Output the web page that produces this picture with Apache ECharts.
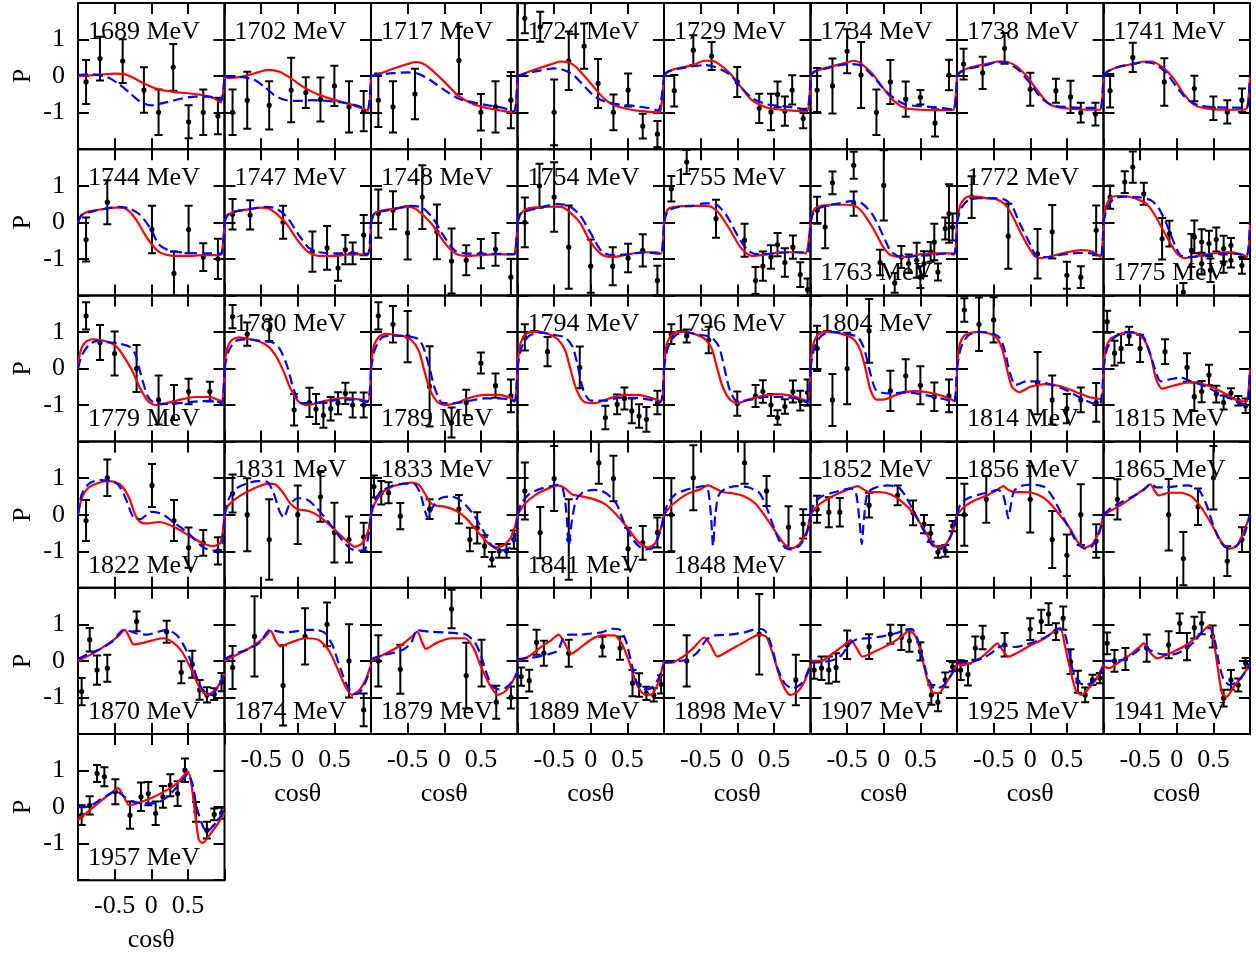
<!DOCTYPE html>
<html>
<head>
<meta charset="utf-8">
<script src="https://cdn.jsdelivr.net/npm/echarts@6/dist/echarts.min.js"></script>
<style>
html, body { margin: 0; padding: 0; background: #fff; }
#chart { width: 1256px; height: 959px; }
</style>
</head>
<body>
<div id="chart"></div>
<script>
// Beam-polarisation P versus cos(theta), one panel per photon energy.
// Measured points are [cosTheta, P, error]; modelA is the solid red curve,
// modelB the dashed blue curve, both as [cosTheta, P].

const energies = [1689, 1702, 1717, 1724, 1729, 1734, 1738, 1741,
                  1744, 1747, 1748, 1754, 1755, 1763, 1772, 1775,
                  1779, 1780, 1789, 1794, 1796, 1804, 1814, 1815,
                  1822, 1831, 1833, 1841, 1848, 1852, 1856, 1865,
                  1870, 1874, 1879, 1889, 1898, 1907, 1925, 1941,
                  1957];

// energies whose label sits in the lower part of the panel
const labelLow = [1763, 1775, 1779, 1789, 1814, 1815, 1822, 1841, 1848,
                  1870, 1874, 1879, 1889, 1898, 1907, 1925, 1941, 1957];

const xTickValues = [-0.5, 0, 0.5];
const xTickLabels = ['-0.5', '0', '0.5'];
const yTickValues = [-1, 0, 1];
const yTickLabels = ['-1', '0', '1'];

// ---- 1689 MeV
const data1689 = [[-0.89,-0.16,0.6],[-0.70,0.48,0.6],[-0.39,0.41,0.6],[-0.10,-0.38,0.62],[0.10,-0.99,0.62],[0.30,0.24,0.64],[0.51,-1.25,0.45],[0.71,-0.99,0.62],[0.91,-1.09,0.5]];
const modelA1689 = [[-1,0],[-0.9,0.01],[-0.7,0.04],[-0.5,0.07],[-0.38,0.06],[-0.25,-0.04],[-0.1,-0.2],[0.1,-0.36],[0.3,-0.43],[0.5,-0.47],[0.7,-0.52],[0.85,-0.6],[0.95,-0.72],[1,0]];
const modelB1689 = [[-1,0.03],[-0.8,0.05],[-0.6,-0.03],[-0.45,-0.2],[-0.3,-0.45],[-0.15,-0.7],[0,-0.8],[0.2,-0.72],[0.4,-0.62],[0.6,-0.56],[0.8,-0.56],[0.95,-0.66],[1,0]];
// ---- 1702 MeV
const data1702 = [[-0.89,-0.99,0.62],[-0.69,-0.66,0.78],[-0.39,-0.8,0.66],[-0.09,-0.38,0.88],[0.11,-0.45,0.42],[0.31,-0.64,0.6],[0.5,-0.27,0.55],[0.7,-0.84,0.7],[0.9,-0.96,0.55]];
const modelA1702 = [[-1,0],[-0.95,-0.05],[-0.8,-0.03],[-0.6,0.07],[-0.4,0.17],[-0.25,0.12],[-0.1,-0.05],[0.1,-0.33],[0.3,-0.52],[0.5,-0.65],[0.7,-0.76],[0.9,-0.9],[0.96,-0.95],[1,0]];
const modelB1702 = [[-1,0],[-0.9,-0.02],[-0.75,-0.03],[-0.6,-0.1],[-0.45,-0.3],[-0.3,-0.55],[-0.15,-0.66],[0,-0.68],[0.2,-0.66],[0.4,-0.68],[0.6,-0.72],[0.8,-0.8],[0.95,-0.9],[1,0]];
// ---- 1717 MeV
const data1717 = [[-0.9,-0.66,0.73],[-0.7,-0.84,0.7],[-0.4,-0.49,0.69],[0.2,0.43,0.92],[0.5,-0.99,0.5],[0.7,-0.84,0.7],[0.91,-0.66,0.77]];
const modelA1717 = [[-1,0],[-0.9,0.05],[-0.7,0.2],[-0.5,0.33],[-0.4,0.38],[-0.3,0.35],[-0.2,0.22],[0,-0.15],[0.2,-0.55],[0.4,-0.77],[0.6,-0.88],[0.8,-0.95],[0.95,-0.99],[1,0]];
const modelB1717 = [[-1,0],[-0.9,0.04],[-0.7,0.08],[-0.5,0.1],[-0.35,0.06],[-0.2,-0.1],[0,-0.38],[0.2,-0.62],[0.4,-0.72],[0.6,-0.8],[0.8,-0.87],[0.95,-0.97],[1,0]];
// ---- 1724 MeV
const data1724 = [[-0.9,1.58,0.41],[-0.69,1.35,0.41],[-0.5,-0.99,0.9],[-0.3,0.42,0.8],[-0.09,0.82,0.62],[0.1,-0.2,0.67],[0.31,-0.99,0.49],[0.51,-0.38,0.45],[0.71,-1.37,0.34],[0.91,-1.59,0.36]];
const modelA1724 = [[-1,0],[-0.9,0.08],[-0.7,0.22],[-0.5,0.35],[-0.42,0.4],[-0.3,0.37],[-0.2,0.25],[0,-0.2],[0.15,-0.55],[0.3,-0.78],[0.5,-0.9],[0.7,-0.96],[0.9,-0.99],[0.95,-0.97],[1,0]];
const modelB1724 = [[-1,0],[-0.9,0.07],[-0.7,0.15],[-0.5,0.21],[-0.4,0.19],[-0.25,0.05],[-0.1,-0.25],[0.05,-0.55],[0.2,-0.7],[0.4,-0.78],[0.6,-0.82],[0.8,-0.88],[0.92,-0.94],[1,0]];
// ---- 1729 MeV
const data1729 = [[-0.86,-0.4,0.43],[-0.6,0.71,0.41],[-0.35,0.55,0.38],[0,-0.16,0.41],[0.3,-0.88,0.4],[0.46,-0.98,0.5],[0.55,-0.5,0.35],[0.65,-0.96,0.4],[0.75,-0.38,0.4],[0.9,-1.16,0.27]];
const modelA1729 = [[-1,0],[-0.95,0.12],[-0.8,0.22],[-0.6,0.3],[-0.45,0.42],[-0.35,0.42],[-0.25,0.33],[-0.1,0.08],[0.05,-0.3],[0.2,-0.66],[0.4,-0.86],[0.6,-0.92],[0.8,-0.95],[0.95,-0.97],[1,0]];
const modelB1729 = [[-1,0],[-0.95,0.12],[-0.8,0.2],[-0.6,0.27],[-0.45,0.3],[-0.3,0.25],[-0.1,0.04],[0.05,-0.3],[0.2,-0.6],[0.4,-0.77],[0.6,-0.82],[0.8,-0.87],[0.95,-0.93],[1,0]];
// ---- 1734 MeV
const data1734 = [[-0.91,-0.38,0.6],[-0.7,-0.27,0.75],[-0.5,0.68,0.6],[-0.31,0.03,0.9],[-0.1,-0.99,0.62],[0.09,-0.16,0.6],[0.3,-0.63,0.48],[0.5,-0.58,0.2],[0.7,-1.28,0.37],[0.89,0.03,0.42]];
const modelA1734 = [[-1,0],[-0.95,0.12],[-0.8,0.22],[-0.6,0.32],[-0.5,0.38],[-0.4,0.42],[-0.3,0.33],[-0.15,0.05],[0,-0.35],[0.15,-0.7],[0.3,-0.88],[0.5,-0.92],[0.7,-0.93],[0.9,-0.93],[0.96,-0.9],[1,0]];
const modelB1734 = [[-1,0],[-0.95,0.12],[-0.8,0.2],[-0.6,0.3],[-0.45,0.33],[-0.3,0.28],[-0.15,0.0],[0,-0.35],[0.15,-0.62],[0.3,-0.78],[0.5,-0.82],[0.7,-0.85],[0.9,-0.9],[0.96,-0.92],[1,0]];
// ---- 1738 MeV
const data1738 = [[-0.91,0.33,0.42],[-0.65,0.09,0.44],[-0.35,0.76,0.42],[0,-0.36,0.45],[0.35,-0.4,0.33],[0.55,-0.57,0.44],[0.69,-1.0,0.27],[0.89,-1.04,0.31]];
const modelA1738 = [[-1,0],[-0.95,0.12],[-0.8,0.25],[-0.6,0.33],[-0.45,0.4],[-0.35,0.4],[-0.2,0.28],[-0.05,0.0],[0.1,-0.4],[0.25,-0.75],[0.4,-0.86],[0.6,-0.9],[0.8,-0.92],[0.95,-0.92],[1,0]];
const modelB1738 = [[-1,0],[-0.95,0.12],[-0.8,0.22],[-0.6,0.3],[-0.45,0.38],[-0.3,0.35],[-0.15,0.15],[0,-0.2],[0.15,-0.6],[0.3,-0.8],[0.5,-0.85],[0.7,-0.87],[0.9,-0.87],[0.96,-0.88],[1,0]];
// ---- 1741 MeV
const data1741 = [[-0.91,-0.4,0.46],[-0.6,0.51,0.4],[-0.17,-0.16,0.65],[0.24,-0.34,0.35],[0.5,-0.88,0.32],[0.69,-0.98,0.32],[0.89,-0.66,0.32]];
const modelA1741 = [[-1,0],[-0.95,0.12],[-0.8,0.25],[-0.6,0.33],[-0.45,0.4],[-0.35,0.4],[-0.2,0.25],[-0.05,-0.05],[0.1,-0.5],[0.25,-0.8],[0.45,-0.9],[0.65,-0.92],[0.85,-0.92],[0.95,-0.9],[1,0]];
const modelB1741 = [[-1,0],[-0.95,0.12],[-0.8,0.25],[-0.6,0.33],[-0.45,0.38],[-0.3,0.33],[-0.15,0.1],[0,-0.3],[0.15,-0.65],[0.3,-0.8],[0.5,-0.85],[0.7,-0.86],[0.9,-0.86],[0.96,-0.87],[1,0]];
// ---- 1744 MeV
const data1744 = [[-0.89,-0.47,0.6],[-0.6,0.55,0.6],[0.01,-0.2,0.65],[0.31,-1.4,0.6],[0.51,-0.2,0.65],[0.71,-0.95,0.38],[0.91,-1.0,0.55]];
const modelA1744 = [[-1,0],[-0.95,0.2],[-0.85,0.3],[-0.7,0.35],[-0.5,0.4],[-0.4,0.4],[-0.3,0.3],[-0.2,0.05],[-0.05,-0.45],[0.1,-0.8],[0.3,-0.92],[0.5,-0.92],[0.7,-0.9],[0.9,-0.9],[0.96,-0.87],[1,0]];
const modelB1744 = [[-1,0],[-0.95,0.2],[-0.8,0.3],[-0.6,0.38],[-0.45,0.42],[-0.3,0.38],[-0.15,0.2],[0,-0.2],[0.1,-0.6],[0.25,-0.78],[0.45,-0.83],[0.7,-0.85],[0.9,-0.85],[0.96,-0.86],[1,0]];
// ---- 1747 MeV
const data1747 = [[-0.89,0.22,0.42],[-0.65,0.2,0.4],[-0.2,0.0,0.45],[0.2,-0.8,0.55],[0.4,-0.7,0.6],[0.55,-1.25,0.35],[0.65,-0.75,0.4],[0.75,-0.85,0.3],[0.9,-0.35,0.55]];
const modelA1747 = [[-1,0],[-0.95,0.2],[-0.85,0.3],[-0.65,0.36],[-0.5,0.4],[-0.4,0.38],[-0.3,0.25],[-0.15,-0.05],[0,-0.5],[0.15,-0.82],[0.3,-0.92],[0.5,-0.92],[0.7,-0.88],[0.9,-0.88],[0.96,-0.88],[1,0]];
const modelB1747 = [[-1,0],[-0.95,0.22],[-0.8,0.32],[-0.6,0.38],[-0.45,0.42],[-0.3,0.38],[-0.15,0.15],[0,-0.3],[0.15,-0.7],[0.3,-0.82],[0.5,-0.85],[0.7,-0.85],[0.9,-0.85],[0.96,-0.87],[1,0]];
// ---- 1748 MeV
const data1748 = [[-0.9,0.24,0.66],[-0.7,0.33,0.52],[-0.5,-0.29,0.73],[-0.3,0.69,0.87],[-0.1,-0.26,0.75],[0.1,-1.06,0.89],[0.3,-1.04,0.41],[0.5,-0.86,0.4],[0.7,-0.74,0.45],[0.91,-1.5,0.5]];
const modelA1748 = [[-1,0],[-0.95,0.25],[-0.85,0.32],[-0.65,0.38],[-0.5,0.42],[-0.4,0.38],[-0.3,0.22],[-0.15,-0.1],[0,-0.55],[0.15,-0.85],[0.3,-0.92],[0.5,-0.9],[0.7,-0.88],[0.9,-0.88],[0.96,-0.86],[1,0]];
const modelB1748 = [[-1,0],[-0.95,0.25],[-0.8,0.32],[-0.6,0.4],[-0.45,0.45],[-0.3,0.4],[-0.15,0.1],[0,-0.4],[0.15,-0.78],[0.3,-0.85],[0.5,-0.86],[0.7,-0.86],[0.9,-0.87],[0.96,-0.87],[1,0]];
// ---- 1754 MeV
const data1754 = [[-0.9,0.0,0.68],[-0.7,1.0,0.6],[-0.5,0.69,0.95],[-0.3,-0.68,1.14],[0.0,-1.2,0.73],[0.3,-1.2,0.52],[0.51,-0.98,0.39],[0.71,-0.77,0.44],[0.91,-1.59,0.4]];
const modelA1754 = [[-1,0],[-0.95,0.25],[-0.85,0.38],[-0.65,0.42],[-0.5,0.43],[-0.4,0.42],[-0.3,0.3],[-0.15,0.0],[0,-0.55],[0.15,-0.88],[0.3,-0.95],[0.5,-0.88],[0.7,-0.82],[0.9,-0.82],[0.96,-0.86],[1,0]];
const modelB1754 = [[-1,0],[-0.95,0.25],[-0.8,0.35],[-0.6,0.45],[-0.45,0.5],[-0.3,0.45],[-0.15,0.2],[0,-0.3],[0.15,-0.8],[0.3,-0.9],[0.5,-0.88],[0.7,-0.83],[0.9,-0.85],[0.96,-0.87],[1,0]];
// ---- 1755 MeV
const data1755 = [[-0.9,0.92,0.35],[-0.69,1.65,0.33],[-0.29,0.1,0.52],[0.1,-0.49,0.45],[0.25,-1.59,0.37],[0.35,-1.2,0.4],[0.46,-0.95,0.32],[0.55,-0.61,0.32],[0.65,-1.1,0.39],[0.76,-0.68,0.32],[0.86,-1.43,0.34],[0.96,-1.84,0.3]];
const modelA1755 = [[-1,0],[-0.95,0.35],[-0.85,0.42],[-0.65,0.45],[-0.45,0.45],[-0.35,0.42],[-0.25,0.25],[-0.1,-0.2],[0.05,-0.7],[0.2,-0.92],[0.4,-0.88],[0.6,-0.82],[0.8,-0.82],[0.93,-0.85],[1,0]];
const modelB1755 = [[-1,0],[-0.95,0.3],[-0.8,0.42],[-0.6,0.45],[-0.45,0.52],[-0.3,0.5],[-0.15,0.2],[0,-0.35],[0.15,-0.78],[0.3,-0.88],[0.5,-0.85],[0.7,-0.82],[0.9,-0.82],[0.96,-0.85],[1,0]];
// ---- 1763 MeV
const data1763 = [[-0.91,0.33,0.37],[-0.8,-0.13,0.58],[-0.7,1.08,0.31],[-0.41,1.56,0.37],[-0.41,0.51,0.33],[0.0,1.01,0.96],[-0.05,-1.1,0.35],[0.15,-1.66,0.27],[0.24,-0.95,0.3],[0.34,-1.13,0.25],[0.45,-1.04,0.48],[0.5,-1.5,0.3],[0.55,-1.13,0.34],[0.64,-0.81,0.27],[0.69,-0.54,0.5],[0.74,-1.36,0.23],[0.84,-0.17,0.3],[0.89,0.24,0.8],[0.94,-0.13,0.37]];
const modelA1763 = [[-1,0],[-0.95,0.35],[-0.85,0.45],[-0.65,0.48],[-0.5,0.48],[-0.4,0.45],[-0.3,0.3],[-0.15,-0.15],[0,-0.7],[0.1,-0.9],[0.3,-0.95],[0.5,-0.88],[0.7,-0.85],[0.9,-0.85],[0.96,-0.85],[1,0]];
const modelB1763 = [[-1,0],[-0.95,0.3],[-0.8,0.45],[-0.6,0.52],[-0.45,0.58],[-0.3,0.52],[-0.15,0.2],[0,-0.4],[0.1,-0.8],[0.25,-0.95],[0.45,-0.92],[0.65,-0.9],[0.85,-0.85],[0.96,-0.88],[1,0]];
// ---- 1772 MeV
const data1772 = [[-0.8,0.69,0.57],[-0.3,-0.38,0.89],[0.1,-0.86,0.68],[0.3,-0.26,0.73],[0.5,-1.45,0.37],[0.69,-1.5,0.3],[0.9,-0.22,0.68]];
const modelA1772 = [[-1,0],[-0.95,0.5],[-0.85,0.7],[-0.75,0.7],[-0.6,0.66],[-0.45,0.62],[-0.35,0.5],[-0.25,0.2],[-0.1,-0.4],[0.05,-0.9],[0.15,-0.98],[0.3,-0.92],[0.5,-0.82],[0.7,-0.76],[0.85,-0.8],[0.96,-0.95],[1,0]];
const modelB1772 = [[-1,0],[-0.95,0.35],[-0.85,0.6],[-0.7,0.66],[-0.5,0.66],[-0.35,0.62],[-0.25,0.45],[-0.15,0.0],[0,-0.6],[0.1,-0.95],[0.25,-0.95],[0.45,-0.88],[0.65,-0.84],[0.85,-0.85],[0.96,-0.95],[1,0]];
// ---- 1775 MeV
const data1775 = [[-0.91,0.69,0.32],[-0.71,1.1,0.3],[-0.6,1.51,0.43],[-0.45,0.78,0.3],[-0.2,-0.45,0.57],[-0.1,-0.31,0.35],[0.09,-1.91,0.25],[0.2,-0.77,0.45],[0.24,-0.4,0.45],[0.34,-0.54,0.35],[0.34,-1.13,0.3],[0.44,-0.58,0.35],[0.46,-1.31,0.32],[0.54,-0.47,0.33],[0.64,-0.72,0.35],[0.64,-1.13,0.25],[0.74,-0.63,0.2],[0.74,-1.04,0.2],[0.89,-1.18,0.23]];
const modelA1775 = [[-1,0],[-0.97,0.4],[-0.9,0.68],[-0.8,0.72],[-0.65,0.7],[-0.5,0.6],[-0.4,0.48],[-0.3,0.2],[-0.15,-0.35],[0,-0.85],[0.1,-0.98],[0.3,-0.92],[0.5,-0.85],[0.7,-0.82],[0.9,-0.88],[0.96,-0.95],[1,0]];
const modelB1775 = [[-1,0],[-0.95,0.4],[-0.85,0.66],[-0.7,0.7],[-0.5,0.68],[-0.35,0.6],[-0.25,0.4],[-0.15,0.0],[-0.05,-0.5],[0.05,-0.9],[0.2,-0.95],[0.4,-0.9],[0.6,-0.86],[0.8,-0.86],[0.95,-0.92],[1,0]];
// ---- 1779 MeV
const data1779 = [[-0.89,1.44,0.37],[-0.7,0.71,0.48],[-0.5,0.41,0.6],[-0.2,0.0,0.64],[0.1,-0.86,0.67],[0.31,-0.93,0.48],[0.51,-0.63,0.35],[0.8,-0.63,0.27]];
const modelA1779 = [[-1,0],[-0.97,0.45],[-0.9,0.72],[-0.8,0.8],[-0.7,0.78],[-0.55,0.7],[-0.45,0.55],[-0.35,0.25],[-0.25,-0.1],[-0.15,-0.55],[-0.05,-0.88],[0.05,-1.0],[0.2,-0.95],[0.4,-0.85],[0.6,-0.78],[0.8,-0.78],[0.9,-0.85],[0.96,-0.9],[1,0]];
const modelB1779 = [[-1,0],[-0.95,0.35],[-0.85,0.65],[-0.75,0.75],[-0.6,0.72],[-0.45,0.68],[-0.3,0.6],[-0.22,0.4],[-0.15,-0.1],[-0.05,-0.75],[0.05,-0.95],[0.25,-0.97],[0.45,-0.93],[0.65,-0.9],[0.85,-0.88],[0.96,-0.95],[1,0]];
// ---- 1780 MeV
const data1780 = [[-0.89,1.42,0.32],[-0.69,0.94,0.32],[-0.39,1.05,0.3],[-0.05,-1.13,0.43],[0.16,-0.93,0.4],[0.25,-1.11,0.41],[0.35,-1.28,0.34],[0.45,-1.1,0.32],[0.55,-0.95,0.3],[0.65,-0.68,0.29],[0.75,-1.0,0.34],[0.9,-1.0,0.34]];
const modelA1780 = [[-1,0],[-0.97,0.5],[-0.9,0.78],[-0.8,0.85],[-0.65,0.8],[-0.5,0.72],[-0.4,0.6],[-0.3,0.35],[-0.2,-0.05],[-0.1,-0.55],[0,-0.88],[0.1,-1.0],[0.25,-0.95],[0.45,-0.85],[0.65,-0.8],[0.85,-0.85],[0.96,-0.9],[1,0]];
const modelB1780 = [[-1,0],[-0.95,0.45],[-0.85,0.75],[-0.7,0.8],[-0.5,0.75],[-0.35,0.72],[-0.25,0.55],[-0.15,0.1],[-0.05,-0.6],[0.05,-0.95],[0.2,-0.95],[0.4,-0.9],[0.6,-0.85],[0.8,-0.85],[0.95,-0.92],[1,0]];
// ---- 1789 MeV
const data1789 = [[-0.9,1.44,0.37],[-0.7,1.21,0.5],[-0.5,0.87,0.7],[-0.2,-0.49,1.1],[0.1,-1.48,0.41],[0.3,-0.93,0.35],[0.5,0.15,0.29],[0.7,-0.47,0.33],[0.91,-0.75,0.45]];
const modelA1789 = [[-1,0],[-0.97,0.55],[-0.9,0.85],[-0.8,0.95],[-0.7,0.93],[-0.55,0.88],[-0.45,0.78],[-0.35,0.5],[-0.28,0.0],[-0.2,-0.55],[-0.1,-0.9],[0,-1.0],[0.15,-0.95],[0.35,-0.8],[0.55,-0.72],[0.75,-0.72],[0.9,-0.8],[0.96,-0.88],[1,0]];
const modelB1789 = [[-1,0],[-0.95,0.5],[-0.85,0.85],[-0.7,0.9],[-0.5,0.88],[-0.35,0.8],[-0.28,0.55],[-0.2,0.0],[-0.12,-0.6],[-0.02,-0.95],[0.15,-0.95],[0.35,-0.88],[0.55,-0.82],[0.75,-0.82],[0.9,-0.85],[0.96,-0.9],[1,0]];
// ---- 1794 MeV
const data1794 = [[-0.9,0.85,0.36],[-0.59,0.46,0.4],[-0.15,0.03,0.57],[0.2,-1.34,0.32],[0.36,-0.98,0.27],[0.46,-0.82,0.3],[0.56,-1.16,0.34],[0.66,-1.3,0.32],[0.76,-1.39,0.34],[0.91,-0.93,0.32]];
const modelA1794 = [[-1,0],[-0.97,0.6],[-0.9,0.92],[-0.8,1.0],[-0.7,1.0],[-0.55,0.92],[-0.45,0.8],[-0.35,0.5],[-0.28,0.0],[-0.2,-0.55],[-0.1,-0.9],[0.05,-0.95],[0.25,-0.82],[0.45,-0.72],[0.65,-0.72],[0.85,-0.82],[0.96,-0.9],[1,0]];
const modelB1794 = [[-1,0],[-0.95,0.55],[-0.85,0.88],[-0.7,0.98],[-0.5,0.92],[-0.35,0.85],[-0.25,0.6],[-0.18,0.1],[-0.1,-0.6],[0,-0.88],[0.2,-0.88],[0.4,-0.8],[0.6,-0.8],[0.8,-0.85],[0.95,-0.92],[1,0]];
// ---- 1796 MeV
const data1796 = [[-0.9,0.94,0.27],[-0.69,0.89,0.18],[-0.39,0.78,0.36],[0.0,-0.96,0.33],[0.25,-0.75,0.3],[0.35,-0.63,0.31],[0.46,-1.0,0.3],[0.55,-1.34,0.2],[0.65,-1.04,0.2],[0.76,-0.63,0.3],[0.86,-0.88,0.27],[0.96,-0.66,0.36]];
const modelA1796 = [[-1,0],[-0.97,0.6],[-0.9,0.92],[-0.8,1.0],[-0.7,1.0],[-0.55,0.92],[-0.45,0.82],[-0.35,0.55],[-0.28,0.05],[-0.2,-0.5],[-0.1,-0.85],[0,-0.95],[0.15,-0.85],[0.35,-0.75],[0.55,-0.7],[0.75,-0.75],[0.9,-0.85],[0.96,-0.9],[1,0]];
const modelB1796 = [[-1,0],[-0.95,0.55],[-0.85,0.9],[-0.7,0.98],[-0.5,0.92],[-0.35,0.85],[-0.25,0.6],[-0.18,0.05],[-0.1,-0.6],[0,-0.9],[0.2,-0.85],[0.4,-0.78],[0.6,-0.78],[0.8,-0.82],[0.95,-0.92],[1,0]];
// ---- 1804 MeV
const data1804 = [[-0.91,0.55,0.62],[-0.7,-0.86,0.71],[-0.5,0.0,0.98],[-0.2,1.03,0.87],[0.09,-0.61,0.55],[0.3,-0.2,0.45],[0.5,-0.46,0.52],[0.69,-0.77,0.39],[0.89,-0.75,0.45]];
const modelA1804 = [[-1,0],[-0.97,0.6],[-0.9,0.92],[-0.8,1.0],[-0.65,0.98],[-0.5,0.9],[-0.4,0.78],[-0.32,0.5],[-0.25,0.0],[-0.18,-0.6],[-0.1,-0.85],[0,-0.85],[0.2,-0.7],[0.4,-0.62],[0.6,-0.65],[0.8,-0.75],[0.92,-0.85],[0.97,-0.9],[1,0]];
const modelB1804 = [[-1,0],[-0.95,0.55],[-0.85,0.9],[-0.7,1.0],[-0.5,0.95],[-0.35,0.85],[-0.27,0.55],[-0.2,0.0],[-0.12,-0.55],[-0.05,-0.65],[0.1,-0.68],[0.3,-0.65],[0.5,-0.7],[0.7,-0.78],[0.9,-0.88],[0.96,-0.92],[1,0]];
// ---- 1814 MeV
const data1814 = [[-0.9,1.6,0.32],[-0.7,1.21,0.73],[-0.5,1.33,0.62],[0.1,-0.4,0.85],[0.3,-0.86,0.67],[0.5,-1.1,0.4],[0.69,-0.86,0.34],[0.9,-0.93,0.53]];
const modelA1814 = [[-1,0],[-0.97,0.6],[-0.9,0.9],[-0.8,0.98],[-0.7,1.0],[-0.55,0.95],[-0.45,0.82],[-0.38,0.5],[-0.32,0.0],[-0.25,-0.5],[-0.15,-0.65],[0,-0.5],[0.2,-0.43],[0.4,-0.48],[0.6,-0.62],[0.8,-0.78],[0.9,-0.82],[0.97,-0.85],[1,0]];
const modelB1814 = [[-1,0],[-0.95,0.55],[-0.85,0.9],[-0.7,1.0],[-0.55,0.98],[-0.42,0.85],[-0.35,0.5],[-0.28,-0.1],[-0.2,-0.45],[-0.05,-0.35],[0.1,-0.35],[0.3,-0.45],[0.5,-0.6],[0.7,-0.82],[0.85,-0.95],[0.95,-0.98],[1,0]];
// ---- 1815 MeV
const data1815 = [[-0.95,1.28,0.3],[-0.85,0.42,0.34],[-0.76,0.55,0.39],[-0.65,0.89,0.25],[-0.5,0.55,0.37],[-0.16,0.46,0.34],[0.14,0.03,0.39],[0.24,-0.77,0.39],[0.34,-0.63,0.29],[0.44,-0.18,0.28],[0.54,-0.7,0.23],[0.64,-0.93,0.19],[0.74,-0.67,0.13],[0.84,-0.88,0.13],[0.94,-1.02,0.2]];
const modelA1815 = [[-1,0],[-0.97,0.55],[-0.9,0.82],[-0.8,0.92],[-0.7,0.98],[-0.6,0.98],[-0.5,0.9],[-0.42,0.7],[-0.35,0.3],[-0.28,-0.3],[-0.2,-0.55],[-0.1,-0.5],[0.05,-0.42],[0.2,-0.38],[0.4,-0.45],[0.6,-0.62],[0.8,-0.85],[0.9,-0.9],[0.96,-0.88],[1,0]];
const modelB1815 = [[-1,0],[-0.95,0.55],[-0.85,0.85],[-0.7,1.0],[-0.55,0.98],[-0.45,0.85],[-0.38,0.5],[-0.3,0.0],[-0.22,-0.35],[-0.1,-0.3],[0.05,-0.25],[0.2,-0.35],[0.4,-0.5],[0.6,-0.7],[0.8,-0.88],[0.92,-0.98],[0.97,-0.95],[1,0]];
// ---- 1822 MeV
const data1822 = [[-0.89,-0.16,0.56],[-0.6,1.01,0.5],[0.01,0.8,0.59],[0.31,-0.16,0.56],[0.51,-0.9,0.55],[0.71,-0.77,0.35],[0.91,-0.99,0.37]];
const modelA1822 = [[-1,0],[-0.95,0.45],[-0.85,0.75],[-0.7,0.88],[-0.6,0.92],[-0.5,0.9],[-0.4,0.78],[-0.3,0.45],[-0.22,0.0],[-0.15,-0.2],[-0.05,-0.24],[0.1,-0.2],[0.3,-0.32],[0.5,-0.55],[0.7,-0.78],[0.85,-0.86],[0.95,-0.75],[1,0]];
const modelB1822 = [[-1,0],[-0.95,0.55],[-0.85,0.85],[-0.7,0.95],[-0.55,0.92],[-0.45,0.82],[-0.35,0.45],[-0.25,-0.05],[-0.15,-0.12],[0,0.08],[0.15,0.02],[0.3,-0.2],[0.5,-0.5],[0.7,-0.88],[0.85,-0.98],[0.95,-0.97],[1,0]];
// ---- 1831 MeV
const data1831 = [[-0.89,0.58,0.52],[-0.69,0.0,1.0],[-0.39,-0.68,1.1],[0.0,0.0,0.8],[0.31,0.49,0.68],[0.5,-0.49,0.82],[0.7,-0.68,0.63],[0.9,-0.61,0.39]];
const modelA1831 = [[-1,0],[-0.95,0.25],[-0.8,0.5],[-0.6,0.72],[-0.4,0.85],[-0.3,0.82],[-0.2,0.6],[-0.1,0.3],[0,0.15],[0.15,0.1],[0.3,-0.05],[0.5,-0.4],[0.7,-0.78],[0.78,-0.88],[0.88,-0.78],[0.96,-0.45],[1,0]];
const modelB1831 = [[-1,0],[-0.95,0.4],[-0.85,0.7],[-0.7,0.85],[-0.55,0.92],[-0.42,0.9],[-0.33,0.6],[-0.25,0.1],[-0.19,-0.08],[-0.12,0.25],[0,0.45],[0.12,0.42],[0.25,0.2],[0.4,-0.15],[0.55,-0.55],[0.7,-0.9],[0.8,-0.98],[0.92,-0.95],[1,0]];
// ---- 1833 MeV
const data1833 = [[-0.96,0.77,0.3],[-0.86,0.6,0.32],[-0.76,0.6,0.29],[-0.6,-0.04,0.36],[-0.2,0.15,0.27],[0.2,0.15,0.39],[0.35,-0.68,0.32],[0.45,-0.36,0.43],[0.55,-0.86,0.3],[0.65,-1.22,0.2],[0.75,-0.99,0.19],[0.85,-0.99,0.19],[0.95,-0.68,0.25]];
const modelA1833 = [[-1,0],[-0.95,0.3],[-0.85,0.6],[-0.7,0.78],[-0.55,0.85],[-0.45,0.88],[-0.35,0.82],[-0.27,0.6],[-0.2,0.35],[-0.12,0.25],[0,0.22],[0.15,0.12],[0.3,-0.1],[0.45,-0.45],[0.6,-0.78],[0.7,-0.88],[0.8,-0.85],[0.9,-0.65],[0.97,-0.3],[1,0]];
const modelB1833 = [[-1,0],[-0.95,0.4],[-0.85,0.65],[-0.7,0.8],[-0.55,0.85],[-0.42,0.85],[-0.33,0.6],[-0.27,0.15],[-0.22,-0.1],[-0.16,0.2],[-0.05,0.45],[0.1,0.5],[0.25,0.35],[0.4,0.0],[0.55,-0.5],[0.65,-0.85],[0.78,-0.98],[0.9,-0.9],[0.97,-0.55],[1,0]];
// ---- 1841 MeV
const data1841 = [[-0.9,0.65,0.78],[-0.69,-0.49,0.7],[-0.5,0.99,0.89],[-0.3,-0.68,1.1],[0.11,1.42,0.57],[0.31,0.99,0.62],[0.51,-0.93,0.57],[0.71,-0.77,0.46],[0.91,-0.49,0.41]];
const modelA1841 = [[-1,0],[-0.9,0.3],[-0.75,0.55],[-0.6,0.7],[-0.45,0.8],[-0.35,0.72],[-0.25,0.55],[-0.12,0.5],[0.05,0.42],[0.2,0.28],[0.35,0.0],[0.5,-0.35],[0.65,-0.75],[0.78,-0.9],[0.88,-0.78],[0.96,-0.35],[1,0]];
const modelB1841 = [[-1,0],[-0.95,0.3],[-0.85,0.55],[-0.7,0.7],[-0.55,0.78],[-0.45,0.82],[-0.38,0.7],[-0.33,0.0],[-0.3,-0.85],[-0.26,-0.2],[-0.2,0.4],[-0.1,0.62],[0.05,0.68],[0.2,0.6],[0.35,0.3],[0.45,-0.2],[0.55,-0.6],[0.65,-0.85],[0.75,-0.95],[0.85,-0.9],[0.95,-0.45],[1,0]];
// ---- 1848 MeV
const data1848 = [[-0.9,0.0,1.0],[-0.6,1.01,0.89],[0.1,1.42,0.57],[0.4,0.65,0.41],[0.7,-0.34,0.57],[0.9,-0.25,0.4]];
const modelA1848 = [[-1,0],[-0.9,0.25],[-0.7,0.55],[-0.5,0.7],[-0.4,0.8],[-0.3,0.72],[-0.2,0.62],[-0.05,0.58],[0.1,0.5],[0.25,0.3],[0.4,-0.1],[0.55,-0.55],[0.65,-0.82],[0.75,-0.92],[0.85,-0.8],[0.95,-0.45],[1,0]];
const modelB1848 = [[-1,0],[-0.95,0.3],[-0.85,0.55],[-0.7,0.68],[-0.55,0.75],[-0.45,0.78],[-0.4,0.7],[-0.36,0.0],[-0.33,-0.85],[-0.3,0.0],[-0.25,0.55],[-0.15,0.72],[0,0.78],[0.15,0.75],[0.3,0.6],[0.4,0.2],[0.5,-0.35],[0.6,-0.8],[0.72,-0.95],[0.85,-0.85],[0.95,-0.5],[1,0]];
// ---- 1852 MeV
const data1852 = [[-0.91,0.15,0.37],[-0.75,0.07,0.41],[-0.6,0.07,0.39],[-0.2,0.26,0.34],[0.19,0.53,0.27],[0.4,0.05,0.34],[0.55,-0.26,0.25],[0.64,-0.51,0.23],[0.74,-1.02,0.16],[0.84,-0.99,0.16],[0.94,-0.31,0.14]];
const modelA1852 = [[-1,0],[-0.9,0.25],[-0.75,0.45],[-0.6,0.6],[-0.45,0.72],[-0.36,0.78],[-0.28,0.7],[-0.2,0.62],[-0.05,0.62],[0.1,0.55],[0.25,0.35],[0.4,0.05],[0.55,-0.4],[0.65,-0.75],[0.75,-0.9],[0.85,-0.8],[0.95,-0.4],[1,0]];
const modelB1852 = [[-1,0],[-0.95,0.3],[-0.85,0.5],[-0.7,0.6],[-0.55,0.68],[-0.45,0.72],[-0.38,0.6],[-0.33,-0.2],[-0.3,-0.8],[-0.27,-0.1],[-0.22,0.6],[-0.1,0.75],[0.05,0.8],[0.2,0.75],[0.3,0.5],[0.42,0.05],[0.55,-0.45],[0.65,-0.8],[0.75,-0.95],[0.85,-0.85],[0.95,-0.4],[1,0]];
// ---- 1856 MeV
const data1856 = [[-0.9,0.0,0.85],[-0.6,0.42,0.64],[0.0,0.42,0.91],[0.3,-0.68,0.78],[0.5,-1.11,0.57],[0.69,0.0,0.83],[0.9,-0.72,0.46]];
const modelA1856 = [[-1,0],[-0.9,0.22],[-0.75,0.4],[-0.6,0.52],[-0.45,0.68],[-0.37,0.78],[-0.3,0.68],[-0.22,0.62],[-0.05,0.62],[0.1,0.55],[0.25,0.35],[0.4,0.0],[0.55,-0.4],[0.65,-0.75],[0.75,-0.9],[0.85,-0.8],[0.95,-0.4],[1,0]];
const modelB1856 = [[-1,0],[-0.95,0.3],[-0.85,0.45],[-0.7,0.55],[-0.55,0.62],[-0.45,0.68],[-0.38,0.6],[-0.33,0.2],[-0.3,-0.1],[-0.27,0.2],[-0.22,0.65],[-0.1,0.8],[0.05,0.82],[0.2,0.75],[0.3,0.5],[0.42,0.05],[0.55,-0.45],[0.65,-0.8],[0.75,-0.93],[0.85,-0.85],[0.95,-0.45],[1,0]];
// ---- 1865 MeV
const data1865 = [[-0.81,0.42,0.55],[-0.11,0.0,0.98],[0.09,-1.2,0.73],[0.29,0.22,0.5],[0.5,1.01,0.87],[0.69,-1.27,0.41],[0.89,-0.68,0.34]];
const modelA1865 = [[-1,0],[-0.8,0.22],[-0.6,0.48],[-0.45,0.7],[-0.36,0.83],[-0.3,0.65],[-0.25,0.53],[-0.1,0.6],[0.05,0.6],[0.2,0.5],[0.35,0.15],[0.5,-0.35],[0.62,-0.78],[0.72,-0.93],[0.82,-0.85],[0.92,-0.45],[1,0]];
const modelB1865 = [[-1,0],[-0.9,0.18],[-0.75,0.35],[-0.6,0.5],[-0.45,0.68],[-0.35,0.85],[-0.28,0.75],[-0.15,0.75],[0,0.78],[0.15,0.8],[0.3,0.68],[0.4,0.3],[0.5,-0.3],[0.6,-0.75],[0.7,-0.92],[0.82,-0.85],[0.92,-0.55],[1,0]];
// ---- 1870 MeV
const data1870 = [[-0.95,-0.84,0.37],[-0.84,0.58,0.32],[-0.74,-0.25,0.4],[-0.6,-0.2,0.37],[-0.2,1.08,0.27],[0.21,0.8,0.3],[0.41,-0.31,0.3],[0.56,-0.09,0.37],[0.66,-0.79,0.27],[0.76,-0.93,0.21],[0.86,-0.91,0.16],[0.96,-0.58,0.25]];
const modelA1870 = [[-1,0],[-0.8,0.2],[-0.6,0.45],[-0.45,0.68],[-0.36,0.85],[-0.3,0.65],[-0.24,0.45],[-0.1,0.5],[0.05,0.58],[0.17,0.62],[0.3,0.5],[0.42,0.25],[0.55,-0.25],[0.65,-0.7],[0.76,-0.93],[0.86,-0.82],[0.94,-0.6],[1,-0.35]];
const modelB1870 = [[-1,0.05],[-0.85,0.2],[-0.7,0.32],[-0.52,0.55],[-0.38,0.85],[-0.3,0.82],[-0.2,0.75],[-0.05,0.72],[0.1,0.8],[0.22,0.85],[0.35,0.7],[0.45,0.4],[0.56,-0.1],[0.66,-0.65],[0.75,-0.88],[0.82,-0.93],[0.9,-0.75],[0.96,-0.55],[1,-0.35]];
// ---- 1874 MeV
const data1874 = [[-0.89,-0.18,0.59],[-0.59,0.67,1.1],[-0.2,-0.67,1.1],[0.1,0.67,0.77],[0.4,1.0,0.6],[0.7,0.0,1.0],[0.9,-1.34,0.45]];
const modelA1874 = [[-1,0],[-0.8,0.2],[-0.6,0.42],[-0.45,0.65],[-0.37,0.82],[-0.3,0.55],[-0.24,0.4],[-0.1,0.5],[0.1,0.62],[0.28,0.58],[0.42,0.3],[0.54,-0.2],[0.65,-0.7],[0.74,-0.93],[0.84,-0.8],[0.93,-0.5],[1,-0.1]];
const modelB1874 = [[-1,0.05],[-0.85,0.2],[-0.7,0.3],[-0.52,0.5],[-0.38,0.85],[-0.3,0.82],[-0.2,0.78],[-0.05,0.8],[0.1,0.85],[0.25,0.85],[0.38,0.75],[0.48,0.4],[0.58,-0.2],[0.68,-0.7],[0.76,-0.9],[0.84,-0.88],[0.92,-0.6],[1,-0.2]];
// ---- 1879 MeV
const data1879 = [[-0.9,0.0,0.7],[-0.6,-0.23,0.67],[0.1,1.42,0.53],[0.3,-0.4,0.9],[0.51,-0.06,0.64],[0.71,-1.13,0.45],[0.91,-1.0,0.3]];
const modelA1879 = [[-1,0],[-0.8,0.2],[-0.6,0.42],[-0.45,0.65],[-0.37,0.8],[-0.3,0.5],[-0.25,0.33],[-0.1,0.5],[0.1,0.62],[0.28,0.62],[0.4,0.35],[0.5,-0.15],[0.62,-0.65],[0.73,-0.93],[0.82,-0.85],[0.92,-0.6],[1,-0.3]];
const modelB1879 = [[-1,0.05],[-0.85,0.15],[-0.7,0.22],[-0.55,0.32],[-0.45,0.5],[-0.37,0.85],[-0.3,0.82],[-0.2,0.8],[0,0.78],[0.15,0.76],[0.3,0.72],[0.42,0.5],[0.5,0.15],[0.58,-0.35],[0.66,-0.7],[0.75,-0.78],[0.85,-0.72],[0.93,-0.55],[1,-0.3]];
// ---- 1889 MeV
const data1889 = [[-0.95,-0.43,0.25],[-0.84,-0.54,0.3],[-0.74,0.51,0.34],[-0.64,0.21,0.34],[-0.3,0.21,0.37],[0.16,0.39,0.27],[0.4,0.35,0.32],[0.57,-0.61,0.36],[0.66,-0.66,0.32],[0.76,-0.89,0.18],[0.86,-0.93,0.18],[0.96,-0.64,0.25]];
const modelA1889 = [[-1,0],[-0.85,0.12],[-0.7,0.35],[-0.55,0.55],[-0.44,0.72],[-0.36,0.5],[-0.27,0.2],[-0.15,0.35],[0,0.58],[0.15,0.7],[0.32,0.7],[0.43,0.45],[0.52,0.0],[0.62,-0.6],[0.72,-0.9],[0.82,-0.92],[0.92,-0.6],[1,0]];
const modelB1889 = [[-1,0.05],[-0.85,0.08],[-0.7,0.12],[-0.55,0.2],[-0.45,0.28],[-0.38,0.6],[-0.3,0.72],[-0.15,0.72],[0,0.75],[0.15,0.78],[0.3,0.88],[0.4,0.85],[0.48,0.55],[0.56,-0.1],[0.63,-0.6],[0.72,-0.78],[0.82,-0.75],[0.92,-0.5],[1,-0.1]];
// ---- 1898 MeV
const data1898 = [[-0.69,0.0,0.7],[0.3,0.73,1.1],[0.8,-0.52,0.69]];
const modelA1898 = [[-1,-0.05],[-0.9,-0.05],[-0.75,0.1],[-0.6,0.35],[-0.45,0.64],[-0.37,0.45],[-0.27,0.12],[-0.1,0.3],[0.1,0.52],[0.3,0.72],[0.4,0.65],[0.5,0.1],[0.6,-0.55],[0.72,-0.93],[0.82,-0.85],[0.92,-0.55],[1,-0.1]];
const modelB1898 = [[-1,-0.05],[-0.85,-0.02],[-0.7,0.03],[-0.55,0.22],[-0.42,0.58],[-0.3,0.7],[-0.1,0.72],[0.1,0.78],[0.28,0.88],[0.38,0.82],[0.47,0.4],[0.55,-0.2],[0.65,-0.62],[0.76,-0.75],[0.86,-0.65],[0.93,-0.45],[1,-0.1]];
// ---- 1907 MeV
const data1907 = [[-0.95,-0.25,0.24],[-0.85,-0.2,0.32],[-0.75,-0.25,0.37],[-0.65,-0.18,0.39],[-0.5,0.44,0.39],[-0.2,0.39,0.34],[0.09,0.73,0.26],[0.24,0.64,0.34],[0.35,0.55,0.3],[0.5,0.26,0.25],[0.65,-0.93,0.27],[0.74,-1.13,0.25],[0.84,-0.52,0.2],[0.94,-0.16,0.12]];
const modelA1907 = [[-1,0],[-0.85,0.0],[-0.7,0.2],[-0.55,0.42],[-0.45,0.57],[-0.37,0.35],[-0.29,0.12],[-0.1,0.28],[0.1,0.48],[0.25,0.68],[0.34,0.82],[0.42,0.72],[0.5,0.3],[0.58,-0.4],[0.66,-0.85],[0.75,-0.88],[0.85,-0.6],[0.93,-0.35],[1,-0.1]];
const modelB1907 = [[-1,-0.05],[-0.85,-0.03],[-0.7,0.02],[-0.58,0.15],[-0.45,0.5],[-0.35,0.6],[-0.2,0.62],[0,0.68],[0.15,0.75],[0.3,0.85],[0.38,0.88],[0.46,0.6],[0.54,0.0],[0.61,-0.5],[0.7,-0.75],[0.8,-0.7],[0.9,-0.45],[1,-0.12]];
// ---- 1925 MeV
const data1925 = [[-0.95,-0.25,0.27],[-0.85,-0.37,0.3],[-0.75,0.35,0.32],[-0.65,0.64,0.32],[-0.35,0.44,0.32],[0.0,0.87,0.3],[0.15,1.08,0.32],[0.25,1.28,0.3],[0.35,0.8,0.23],[0.45,1.17,0.32],[0.55,-0.02,0.34],[0.65,-0.57,0.3],[0.75,-0.93,0.2],[0.85,-0.52,0.14],[0.95,-0.47,0.14]];
const modelA1925 = [[-1,0],[-0.95,-0.12],[-0.85,-0.08],[-0.7,0.05],[-0.55,0.3],[-0.45,0.48],[-0.38,0.3],[-0.3,0.12],[-0.15,0.25],[0,0.42],[0.2,0.62],[0.35,0.85],[0.41,0.9],[0.47,0.45],[0.53,-0.1],[0.62,-0.8],[0.7,-0.93],[0.8,-0.75],[0.9,-0.5],[1,-0.1]];
const modelB1925 = [[-1,-0.05],[-0.9,-0.05],[-0.77,0.0],[-0.65,0.08],[-0.54,0.2],[-0.45,0.35],[-0.36,0.42],[-0.2,0.38],[-0.05,0.45],[0.1,0.55],[0.25,0.7],[0.37,0.88],[0.45,0.85],[0.52,0.35],[0.58,-0.25],[0.66,-0.58],[0.75,-0.66],[0.85,-0.58],[0.93,-0.42],[1,-0.15]];
// ---- 1941 MeV
const data1941 = [[-0.95,0.48,0.3],[-0.85,0.0,0.3],[-0.7,0.05,0.3],[-0.41,0.35,0.37],[-0.11,0.44,0.37],[0.04,1.03,0.27],[0.14,0.39,0.37],[0.24,0.91,0.3],[0.34,1.03,0.3],[0.49,0.67,0.3],[0.64,-1.02,0.23],[0.74,-0.52,0.27],[0.84,-0.66,0.18],[0.94,-0.06,0.14]];
const modelA1941 = [[-1,-0.15],[-0.92,-0.2],[-0.8,-0.05],[-0.65,0.15],[-0.5,0.4],[-0.45,0.48],[-0.37,0.25],[-0.27,0.07],[-0.1,0.2],[0.1,0.4],[0.25,0.62],[0.4,0.9],[0.45,0.98],[0.5,0.6],[0.56,-0.2],[0.62,-0.9],[0.68,-0.98],[0.78,-0.7],[0.88,-0.45],[1,-0.1]];
const modelB1941 = [[-1,0],[-0.85,0.0],[-0.7,0.05],[-0.55,0.25],[-0.45,0.4],[-0.35,0.28],[-0.2,0.18],[-0.05,0.18],[0.1,0.3],[0.25,0.55],[0.37,0.85],[0.45,0.9],[0.52,0.55],[0.58,-0.1],[0.64,-0.5],[0.72,-0.66],[0.82,-0.58],[0.92,-0.35],[1,-0.05]];
// ---- 1957 MeV
const data1957 = [[-0.95,-0.22,0.27],[-0.84,0.05,0.25],[-0.74,0.92,0.23],[-0.64,0.83,0.26],[-0.49,0.42,0.34],[-0.29,-0.22,0.37],[-0.14,0.28,0.39],[-0.04,0.37,0.32],[0.06,-0.17,0.32],[0.16,0.28,0.3],[0.26,0.6,0.3],[0.36,0.37,0.34],[0.46,1.01,0.32],[0.61,-0.13,0.27],[0.76,-0.63,0.23],[0.86,-0.2,0.16],[0.96,-0.17,0.15]];
const modelA1957 = [[-1,-0.35],[-0.85,-0.1],[-0.7,0.15],[-0.55,0.38],[-0.45,0.52],[-0.38,0.3],[-0.3,0.05],[-0.2,0.1],[0,0.25],[0.2,0.45],[0.35,0.65],[0.5,0.97],[0.55,0.6],[0.6,-0.2],[0.65,-0.9],[0.7,-0.98],[0.8,-0.75],[0.9,-0.48],[1,-0.15]];
const modelB1957 = [[-1,0],[-0.85,0.02],[-0.7,0.2],[-0.55,0.38],[-0.48,0.45],[-0.38,0.3],[-0.25,0.15],[-0.1,0.1],[0.05,0.1],[0.2,0.25],[0.35,0.55],[0.45,0.8],[0.5,0.92],[0.56,0.65],[0.62,0.0],[0.7,-0.5],[0.76,-0.68],[0.85,-0.5],[0.92,-0.35],[1,0]];

const panelData = {
  1689: [data1689, modelA1689, modelB1689], 1702: [data1702, modelA1702, modelB1702],
  1717: [data1717, modelA1717, modelB1717], 1724: [data1724, modelA1724, modelB1724],
  1729: [data1729, modelA1729, modelB1729], 1734: [data1734, modelA1734, modelB1734],
  1738: [data1738, modelA1738, modelB1738], 1741: [data1741, modelA1741, modelB1741],
  1744: [data1744, modelA1744, modelB1744], 1747: [data1747, modelA1747, modelB1747],
  1748: [data1748, modelA1748, modelB1748], 1754: [data1754, modelA1754, modelB1754],
  1755: [data1755, modelA1755, modelB1755], 1763: [data1763, modelA1763, modelB1763],
  1772: [data1772, modelA1772, modelB1772], 1775: [data1775, modelA1775, modelB1775],
  1779: [data1779, modelA1779, modelB1779], 1780: [data1780, modelA1780, modelB1780],
  1789: [data1789, modelA1789, modelB1789], 1794: [data1794, modelA1794, modelB1794],
  1796: [data1796, modelA1796, modelB1796], 1804: [data1804, modelA1804, modelB1804],
  1814: [data1814, modelA1814, modelB1814], 1815: [data1815, modelA1815, modelB1815],
  1822: [data1822, modelA1822, modelB1822], 1831: [data1831, modelA1831, modelB1831],
  1833: [data1833, modelA1833, modelB1833], 1841: [data1841, modelA1841, modelB1841],
  1848: [data1848, modelA1848, modelB1848], 1852: [data1852, modelA1852, modelB1852],
  1856: [data1856, modelA1856, modelB1856], 1865: [data1865, modelA1865, modelB1865],
  1870: [data1870, modelA1870, modelB1870], 1874: [data1874, modelA1874, modelB1874],
  1879: [data1879, modelA1879, modelB1879], 1889: [data1889, modelA1889, modelB1889],
  1898: [data1898, modelA1898, modelB1898], 1907: [data1907, modelA1907, modelB1907],
  1925: [data1925, modelA1925, modelB1925], 1941: [data1941, modelA1941, modelB1941],
  1957: [data1957, modelA1957, modelB1957]
};

// ---- layout
const COLS = 8;
const GRID_LEFT = 78, GRID_TOP = 3;
const PANEL_W = 146.5, PANEL_H = 146.2;
const FONT = '"Liberation Serif", "Times New Roman", "DejaVu Serif", serif';
const FONT_SIZE = 26;

const tickStyle = { show: true, inside: true, length: 11, lineStyle: { color: '#000', width: 2 } };
const hiddenLine = { show: false, onZero: false };
const textStyleBase = { fontFamily: FONT, fontSize: FONT_SIZE, color: '#000' };

function pickLabel(values, labels) {
  return function (v) {
    for (let k = 0; k < values.length; k++) {
      if (Math.abs(v - values[k]) < 1e-9) return labels[k];
    }
    return '';
  };
}

const grids = [], xAxes = [], yAxes = [], series = [], texts = [];

energies.forEach(function (energy, i) {
  const row = Math.floor(i / COLS), col = i % COLS;
  const left = GRID_LEFT + col * PANEL_W;
  const top = GRID_TOP + row * PANEL_H;
  const lastInColumn = i + COLS >= energies.length;
  const firstColumn = col === 0;
  const [pts, modelA, modelB] = panelData[energy];

  grids.push({ left: left, top: top, width: PANEL_W, height: PANEL_H,
    show: true, borderColor: '#000', borderWidth: 2, backgroundColor: 'transparent' });

  // bottom and top x axes (ticks on both edges)
  xAxes.push({ gridIndex: i, type: 'value', min: -1, max: 1, interval: 0.5, position: 'bottom',
    axisLine: hiddenLine, axisTick: tickStyle, splitLine: { show: false },
    axisLabel: Object.assign({ show: lastInColumn, margin: 13, formatter: pickLabel(xTickValues, xTickLabels) }, textStyleBase),
    name: lastInColumn ? 'cosθ' : '', nameLocation: 'middle', nameGap: 47,
    nameTextStyle: textStyleBase });
  xAxes.push({ gridIndex: i, type: 'value', min: -1, max: 1, interval: 0.5, position: 'top',
    axisLine: hiddenLine, axisTick: tickStyle, splitLine: { show: false }, axisLabel: { show: false } });

  // left and right y axes
  yAxes.push({ gridIndex: i, type: 'value', min: -2, max: 2, interval: 1, position: 'left',
    axisLine: hiddenLine, axisTick: tickStyle, splitLine: { show: false },
    axisLabel: Object.assign({ show: firstColumn, margin: 13, padding: [5, 0, 0, 0],
      formatter: pickLabel(yTickValues, yTickLabels) }, textStyleBase),
    name: firstColumn ? 'P' : '', nameLocation: 'middle', nameGap: 42, nameRotate: 90,
    nameTextStyle: textStyleBase });
  yAxes.push({ gridIndex: i, type: 'value', min: -2, max: 2, interval: 1, position: 'right',
    axisLine: hiddenLine, axisTick: tickStyle, splitLine: { show: false }, axisLabel: { show: false } });

  const xi = 2 * i, yi = 2 * i;

  // measured points with error bars
  series.push({
    type: 'custom', xAxisIndex: xi, yAxisIndex: yi, data: pts, clip: true, z: 3,
    encode: { x: 0, y: 1 }, silent: true,
    renderItem: function (params, api) {
      const x = api.value(0), y = api.value(1), e = api.value(2);
      const c = api.coord([x, y]);
      const hi = api.coord([x, y + e]);
      const lo = api.coord([x, y - e]);
      const cap = 4;
      const st = { stroke: '#000', lineWidth: 2 };
      return { type: 'group', children: [
        { type: 'line', shape: { x1: c[0], y1: hi[1], x2: c[0], y2: lo[1] }, style: st },
        { type: 'line', shape: { x1: c[0] - cap, y1: hi[1], x2: c[0] + cap, y2: hi[1] }, style: st },
        { type: 'line', shape: { x1: c[0] - cap, y1: lo[1], x2: c[0] + cap, y2: lo[1] }, style: st },
        { type: 'circle', shape: { cx: c[0], cy: c[1], r: 2.6 }, style: { fill: '#000' } }
      ] };
    }
  });

  // solid red model curve
  series.push({ type: 'line', xAxisIndex: xi, yAxisIndex: yi, data: modelA, symbol: 'none',
    smooth: 0.25, z: 4, silent: true, lineStyle: { color: '#ff0000', width: 2.2 } });
  // dashed blue model curve
  series.push({ type: 'line', xAxisIndex: xi, yAxisIndex: yi, data: modelB, symbol: 'none',
    smooth: 0.25, z: 5, silent: true, lineStyle: { color: '#0000ff', width: 2.2, type: [10, 5] } });

  // energy label
  const low = labelLow.indexOf(energy) >= 0;
  texts.push({ type: 'text', z: 1, x: left + 10, y: low ? top + PANEL_H - 22 : top + 29,
    style: { text: energy + ' MeV', font: FONT_SIZE + 'px ' + FONT, fill: '#000',
      textAlign: 'left', textVerticalAlign: 'middle', align: 'left', verticalAlign: 'middle' } });
});

const chart = echarts.init(document.getElementById('chart'), null, { renderer: 'canvas' });
chart.setOption({
  animation: false,
  backgroundColor: '#fff',
  grid: grids,
  xAxis: xAxes,
  yAxis: yAxes,
  series: series,
  graphic: { elements: texts }
});
</script>
</body>
</html>
